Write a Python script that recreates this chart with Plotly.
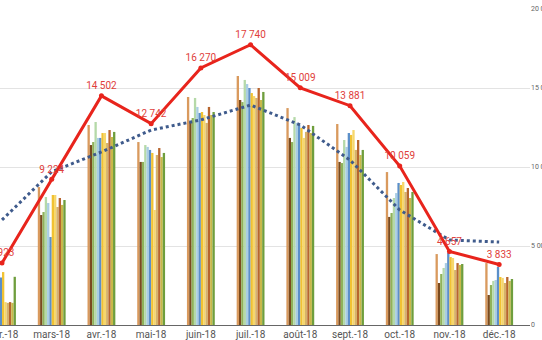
import plotly.graph_objects as go

months = ["févr.-18", "mars-18", "avr.-18", "mai-18", "juin-18", "juil.-18",
          "août-18", "sept.-18", "oct.-18", "nov.-18", "déc.-18"]

series_names = ["S1", "S2", "S3", "S4", "S5", "S6", "S7", "S8", "S9", "S10", "S11", "S12"]
series_colors = ["#d99a5e", "#7a4a1f", "#8fb25a", "#b5d9a8", "#a9cde3", "#5b8fc9",
                 "#f1c232", "#f6d76c", "#d6b26a", "#b7652e", "#c9b84a", "#6f9e3d"]

s1 = [3600, 8730, 12660, 11580, 14430, 15760, 13730, 12720, 9680, 4490, 3920]
s2 = [2900, 6960, 11390, 10320, 12850, 14240, 11840, 10320, 6840, 2660, 1900]
s3 = [3100, 7150, 11580, 10320, 13100, 14110, 11580, 10250, 7090, 3230, 2530]
s4 = [3300, 8100, 12850, 11390, 14370, 15510, 13160, 11710, 8040, 3610, 2790]
s5 = [3200, 7720, 11840, 11270, 13800, 15250, 12790, 11270, 8350, 3920, 2850]
s6 = [3000, 5570, 11840, 11080, 13420, 15000, 12660, 12150, 8990, 4560, 3670]
s7 = [3350, 8230, 12150, 10890, 13480, 14680, 12470, 12030, 8860, 4300, 3040]
s8 = [1450, 8230, 12150, 7280, 13290, 14490, 11840, 12340, 9050, 4240, 2980]
s9 = [1400, 7470, 11520, 10760, 12790, 14370, 12220, 11080, 8420, 3480, 2660]
s10 = [1450, 8040, 12340, 11200, 13800, 15000, 12660, 11710, 8670, 3920, 3040]
s11 = [1400, 7600, 11900, 10630, 13290, 14240, 12150, 10760, 8040, 3800, 2790]
s12 = [3050, 7910, 12220, 10890, 13480, 14750, 12600, 11080, 8420, 3860, 2910]
bar_series = [s1, s2, s3, s4, s5, s6, s7, s8, s9, s10, s11, s12]

line_values = [3923, 9224, 14502, 12742, 16270, 17740, 15009, 13881, 10059, 4657, 3833]
trend_values = [6650, 9700, 10950, 12340, 12980, 13920, 12660, 10440, 7280, 5380, 5250]

y_tickvals = [0, 5000, 10000, 15000, 20000]


def fmt(v):
    return f"{v:,}".replace(",", " ")


fig = go.Figure()
for name, color, vals in zip(series_names, series_colors, bar_series):
    fig.add_trace(go.Bar(x=months, y=vals, name=name, marker_color=color,
                         marker_line_width=0))

fig.add_trace(go.Scatter(x=months, y=trend_values, mode="lines",
                         line=dict(color="#3f5b8c", width=3, dash="dot"),
                         name="Tendance"))

fig.add_trace(go.Scatter(x=months, y=line_values, mode="lines+markers+text",
                         line=dict(color="#e8241c", width=3),
                         marker=dict(color="#e8241c", size=5),
                         text=[fmt(v) for v in line_values],
                         textposition="top center",
                         textfont=dict(color="#e0403a", size=10, family="Roboto"),
                         cliponaxis=False,
                         name="2018"))

fig.update_layout(
    width=542, height=340,
    margin=dict(l=0, r=12, t=9, b=15),
    paper_bgcolor="white", plot_bgcolor="white",
    barmode="group", bargap=0.44, bargroupgap=0,
    showlegend=False,
    font=dict(family="Roboto", size=10, color="#555555"),
    separators=", ",
    xaxis=dict(type="category", autorange=False, range=[-0.04, 10.62],
               automargin=False,
               showgrid=False, showline=True, linecolor="#666666", linewidth=1,
               ticks="", tickfont=dict(size=10, color="#555555")),
    yaxis=dict(side="right", autorange=False, range=[0, 20000], tickvals=y_tickvals,
               automargin=False,
               tickformat=",d", showgrid=True, gridcolor="#e3e3e3",
               zeroline=False, ticks="", tickfont=dict(size=7, color="#666666")),
)

fig.write_html("out.html")
